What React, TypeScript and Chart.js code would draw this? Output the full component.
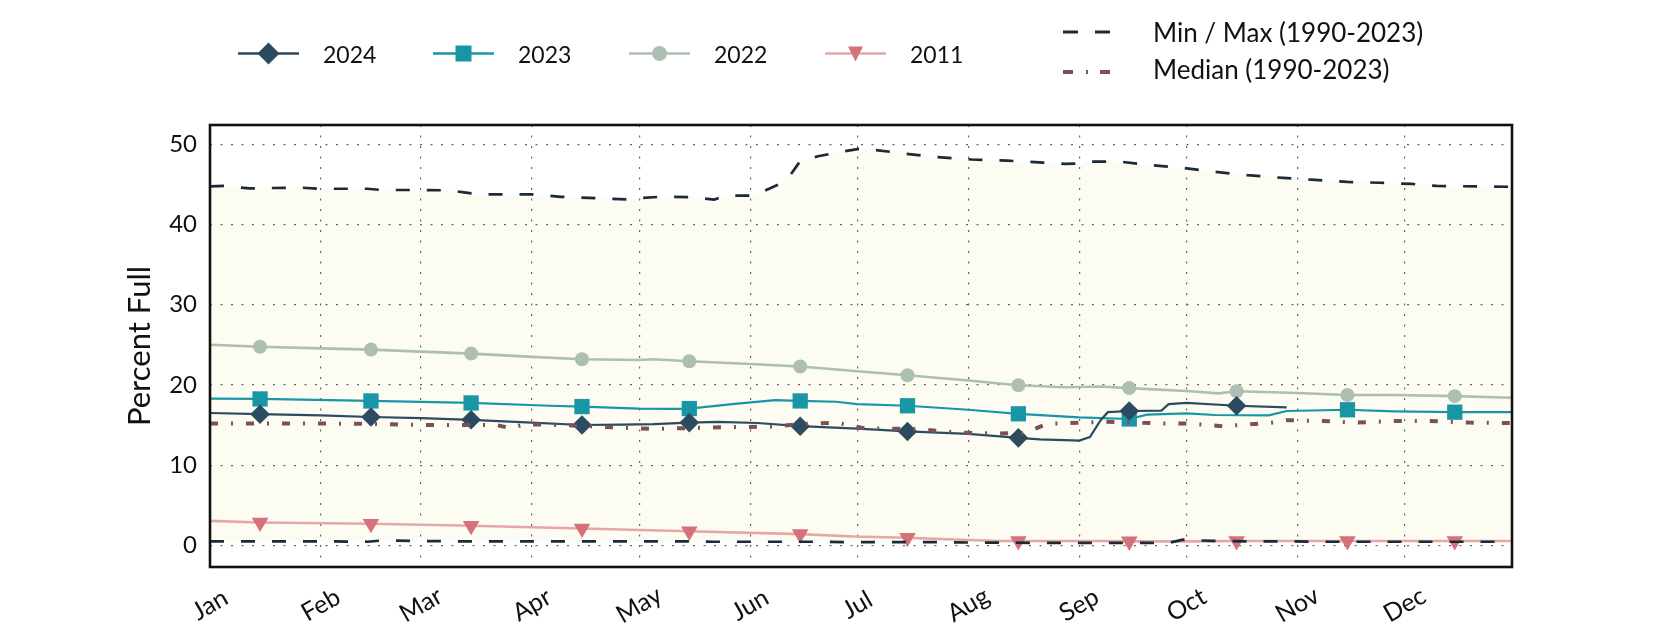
import React, { useEffect, useRef } from 'react';
import { Chart, registerables } from 'chart.js';

Chart.register(...registerables);

// ---------- data (day of year, 0 = Jan 1) ----------
const monthLabels = ['Jan', 'Feb', 'Mar', 'Apr', 'May', 'Jun', 'Jul', 'Aug', 'Sep', 'Oct', 'Nov', 'Dec'];
const monthStartDays = [0, 31, 59, 90, 120, 151, 181, 212, 243, 273, 304, 334];
const markerDays = [14, 45, 73, 104, 134, 165, 195, 226, 257, 287, 318, 348];
const yTickValues = [0, 10, 20, 30, 40, 50];

const envelopeDays = [0, 4, 11, 25, 31, 44, 48, 58, 67, 71, 75, 90, 98, 109, 118, 120, 126, 135, 141, 144, 152, 154, 159, 162, 165, 170, 177, 181, 184, 193, 202, 213, 223, 233, 239, 243, 246, 255, 263, 268, 272, 280, 290, 300, 309, 318, 327, 336, 343, 364];
const maxPct = [44.75, 44.8, 44.5, 44.6, 44.45, 44.45, 44.3, 44.3, 44.25, 44.0, 43.75, 43.75, 43.45, 43.25, 43.1, 43.3, 43.45, 43.4, 43.1, 43.6, 43.6, 44.0, 45.0, 46.0, 47.9, 48.5, 49.1, 49.4, 49.4, 48.9, 48.45, 48.1, 47.95, 47.7, 47.55, 47.6, 47.85, 47.8, 47.4, 47.2, 47.05, 46.6, 46.15, 45.8, 45.55, 45.3, 45.2, 45.05, 44.8, 44.7];
const minPct = [0.5, 0.5, 0.5, 0.5, 0.5, 0.45, 0.6, 0.55, 0.5, 0.5, 0.5, 0.5, 0.5, 0.5, 0.5, 0.5, 0.5, 0.5, 0.45, 0.45, 0.45, 0.45, 0.45, 0.45, 0.45, 0.45, 0.4, 0.4, 0.4, 0.4, 0.4, 0.35, 0.35, 0.3, 0.3, 0.3, 0.3, 0.3, 0.3, 0.3, 0.7, 0.55, 0.5, 0.5, 0.45, 0.45, 0.45, 0.45, 0.45, 0.45];

const medianDays = [0, 20, 45, 59, 80, 84, 88, 98, 114, 124, 140, 157, 165, 175, 183, 198, 209, 220, 227, 230, 234, 250, 266, 273, 283, 297, 301, 311, 321, 331, 341, 352, 364];
const medianPct = [15.2, 15.2, 15.15, 15.0, 15.0, 14.6, 15.1, 15.0, 14.7, 14.5, 14.7, 14.8, 15.1, 15.3, 14.6, 14.5, 14.05, 13.95, 14.0, 14.4, 15.15, 15.4, 15.2, 15.2, 14.85, 15.3, 15.6, 15.5, 15.3, 15.5, 15.5, 15.3, 15.25];

const days2024 = [0, 14, 31, 45, 59, 73, 90, 104, 115, 124, 134, 142, 153, 165, 181, 195, 212, 226, 232, 243, 246, 249, 251, 257, 266, 268, 273, 287, 301];
const pct2024 = [16.5, 16.35, 16.2, 16.0, 15.85, 15.65, 15.3, 15.0, 15.05, 15.1, 15.3, 15.4, 15.25, 14.85, 14.55, 14.2, 13.9, 13.4, 13.2, 13.05, 13.5, 15.6, 16.6, 16.75, 16.8, 17.6, 17.75, 17.4, 17.2];

const days2023 = [0, 14, 45, 73, 95, 104, 120, 130, 134, 146, 158, 165, 175, 181, 195, 212, 226, 243, 257, 262, 273, 281, 296, 301, 318, 331, 348, 364];
const pct2023 = [18.3, 18.25, 18.0, 17.75, 17.4, 17.3, 17.05, 17.0, 17.05, 17.6, 18.1, 18.0, 17.9, 17.6, 17.4, 16.9, 16.4, 15.95, 15.75, 16.3, 16.45, 16.25, 16.2, 16.75, 16.9, 16.7, 16.6, 16.6];

const days2022 = [0, 14, 31, 45, 59, 73, 90, 104, 120, 124, 134, 151, 165, 181, 195, 212, 226, 239, 249, 257, 274, 282, 287, 304, 318, 331, 348, 364];
const pct2022 = [25.0, 24.75, 24.55, 24.4, 24.15, 23.9, 23.5, 23.2, 23.1, 23.2, 22.95, 22.6, 22.3, 21.7, 21.2, 20.55, 19.95, 19.7, 19.8, 19.6, 19.2, 18.95, 19.2, 19.0, 18.75, 18.75, 18.6, 18.4];

const days2011 = [0, 14, 45, 73, 104, 134, 165, 180, 195, 210, 221, 226, 249, 257, 276, 287, 290, 318, 348, 364];
const pct2011 = [3.05, 2.85, 2.7, 2.45, 2.1, 1.75, 1.4, 1.1, 0.95, 0.7, 0.55, 0.55, 0.55, 0.5, 0.5, 0.55, 0.55, 0.55, 0.55, 0.55];

// ---------- styles ----------
const FONT = 'Lato, "Open Sans", sans-serif';
const C2024 = '#2c4a60';
const C2023 = '#1996a6';
const C2022 = '#adbfb2';
const C2011 = '#d4717a';
const C2011_LINE = '#e6a6a6';
const C_MINMAX = '#1b2a3a';
const C_MEDIAN = '#7c5058';
const C_FILL = '#fcfcf2';

const toPoints = (d: number[], v: number[]) => d.map((x, i) => ({ x, y: v[i] }));
const markerRadius = (r: number) => (ctx: any) => (ctx.raw && markerDays.includes(ctx.raw.x) ? r : 0);

function drawMarker(ctx: CanvasRenderingContext2D, kind: string, x: number, y: number, color: string) {
  ctx.save();
  ctx.fillStyle = color;
  ctx.beginPath();
  if (kind === 'diamond') {
    const r = 11;
    ctx.moveTo(x - r, y); ctx.lineTo(x, y - r); ctx.lineTo(x + r, y); ctx.lineTo(x, y + r);
  } else if (kind === 'square') {
    const s = 8;
    ctx.rect(x - s, y - s, 2 * s, 2 * s);
  } else if (kind === 'circle') {
    ctx.arc(x, y, 7.5, 0, Math.PI * 2);
  } else {
    const w = 7.5;
    ctx.moveTo(x - w, y - 7); ctx.lineTo(x + w, y - 7); ctx.lineTo(x, y + 8);
  }
  ctx.closePath();
  ctx.fill();
  ctx.restore();
}

const legendSeries = [
  { label: '2024', color: C2024, line: C2024, kind: 'diamond', x0: 238, x1: 299, tx: 323 },
  { label: '2023', color: C2023, line: C2023, kind: 'square', x0: 433, x1: 494, tx: 518 },
  { label: '2022', color: C2022, line: C2022, kind: 'circle', x0: 629, x1: 690, tx: 714 },
  { label: '2011', color: C2011, line: C2011_LINE, kind: 'triangle', x0: 825, x1: 886, tx: 910 },
];

const decorPlugin = {
  id: 'decor',
  afterDraw(chart: any) {
    const ctx: CanvasRenderingContext2D = chart.ctx;
    const { left, right, top, bottom } = chart.chartArea;
    const xScale = chart.scales.x;

    // frame
    ctx.save();
    ctx.strokeStyle = '#111';
    ctx.lineWidth = 2.6;
    ctx.strokeRect(left, top, right - left, bottom - top);
    ctx.restore();

    // x labels, rotated and centred on month starts
    ctx.save();
    ctx.fillStyle = '#111';
    ctx.font = `25px ${FONT}`;
    ctx.textAlign = 'center';
    ctx.textBaseline = 'middle';
    monthStartDays.forEach((d, i) => {
      const px = xScale.getPixelForValue(d);
      ctx.save();
      ctx.translate(px, bottom + 38);
      ctx.rotate(-Math.PI / 6);
      ctx.fillText(monthLabels[i], 0, 0);
      ctx.restore();
    });
    ctx.restore();

    // y title
    ctx.save();
    ctx.fillStyle = '#111';
    ctx.font = `31px ${FONT}`;
    ctx.textAlign = 'center';
    ctx.textBaseline = 'middle';
    ctx.translate(left - 70, (top + bottom) / 2);
    ctx.rotate(-Math.PI / 2);
    ctx.fillText('Percent Full', 0, 0);
    ctx.restore();

    // legend
    ctx.save();
    ctx.textBaseline = 'alphabetic';
    ctx.textAlign = 'left';
    ctx.font = `23px ${FONT}`;
    const rowY = 53.5;
    legendSeries.forEach((s) => {
      ctx.strokeStyle = s.line;
      ctx.lineWidth = 2.6;
      ctx.beginPath();
      ctx.moveTo(s.x0, rowY);
      ctx.lineTo(s.x1, rowY);
      ctx.stroke();
      drawMarker(ctx, s.kind, (s.x0 + s.x1) / 2, rowY, s.color);
      ctx.fillStyle = '#111';
      ctx.fillText(s.label, s.tx, 62.5);
    });
    // min / max
    ctx.strokeStyle = C_MINMAX;
    ctx.lineWidth = 3;
    ctx.setLineDash([15, 17]);
    ctx.beginPath();
    ctx.moveTo(1063, 32);
    ctx.lineTo(1111, 32);
    ctx.stroke();
    // median
    ctx.strokeStyle = C_MEDIAN;
    ctx.lineWidth = 4;
    ctx.setLineDash([10, 13, 2, 12]);
    ctx.beginPath();
    ctx.moveTo(1063, 72);
    ctx.lineTo(1110, 72);
    ctx.stroke();
    ctx.setLineDash([]);
    ctx.fillStyle = '#111';
    ctx.font = `26px ${FONT}`;
    ctx.fillText('Min / Max (1990-2023)', 1153, 41.5);
    ctx.fillText('Median (1990-2023)', 1153, 78.5);
    ctx.restore();
  },
};

export default function App() {
  const canvasRef = useRef<HTMLCanvasElement | null>(null);

  useEffect(() => {
    document.body.style.margin = '0';
    const canvas = canvasRef.current;
    if (!canvas) return;
    Chart.defaults.font.family = FONT;

    const chart = new Chart(canvas, {
      type: 'line',
      data: {
        datasets: [
          {
            label: 'Median (1990-2023)',
            data: toPoints(medianDays, medianPct),
            borderColor: C_MEDIAN,
            borderWidth: 4,
            borderDash: [8, 13, 2, 13],
            pointRadius: 0,
            fill: false,
            tension: 0,
          },
          {
            label: 'Max (1990-2023)',
            data: toPoints(envelopeDays, maxPct),
            borderColor: C_MINMAX,
            borderWidth: 2.7,
            borderDash: [14, 17],
            pointRadius: 0,
            fill: '+1',
            backgroundColor: C_FILL,
            tension: 0,
          },
          {
            label: 'Min (1990-2023)',
            data: toPoints(envelopeDays, minPct),
            borderColor: C_MINMAX,
            borderWidth: 2.7,
            borderDash: [14, 17],
            pointRadius: 0,
            fill: false,
            tension: 0,
          },
          {
            label: '2024',
            data: toPoints(days2024, pct2024),
            borderColor: C2024,
            borderWidth: 2.2,
            pointStyle: 'rectRot',
            pointRadius: markerRadius(9.8),
            pointBackgroundColor: C2024,
            pointBorderColor: C2024,
            pointBorderWidth: 0,
            fill: false,
            tension: 0,
          },
          {
            label: '2023',
            data: toPoints(days2023, pct2023),
            borderColor: C2023,
            borderWidth: 2.2,
            pointStyle: 'rect',
            pointRadius: markerRadius(10.8),
            pointBackgroundColor: C2023,
            pointBorderColor: C2023,
            pointBorderWidth: 0,
            fill: false,
            tension: 0,
          },
          {
            label: '2022',
            data: toPoints(days2022, pct2022),
            borderColor: C2022,
            borderWidth: 2.6,
            pointStyle: 'circle',
            pointRadius: markerRadius(7),
            pointBackgroundColor: C2022,
            pointBorderColor: C2022,
            pointBorderWidth: 0,
            fill: false,
            tension: 0,
          },
          {
            label: '2011',
            data: toPoints(days2011, pct2011),
            borderColor: C2011_LINE,
            borderWidth: 2.6,
            pointStyle: 'triangle',
            pointRotation: 180,
            pointRadius: markerRadius(9.6),
            pointBackgroundColor: C2011,
            pointBorderColor: C2011,
            pointBorderWidth: 0,
            fill: false,
            tension: 0,
          },
        ],
      },
      options: {
        responsive: false,
        animation: false,
        events: [],
        layout: { padding: { left: 0, right: 168, top: 125, bottom: 0 } },
        plugins: {
          legend: { display: false },
          tooltip: { enabled: false },
          filler: { drawTime: 'beforeDraw' },
        } as any,
        scales: {
          x: {
            type: 'linear',
            min: 0,
            max: 364,
            afterBuildTicks: (scale: any) => {
              scale.ticks = monthStartDays.map((v) => ({ value: v }));
            },
            afterFit: (scale: any) => {
              scale.height = 63;
            },
            ticks: { display: false },
            grid: { color: '#666', lineWidth: 1.2, drawTicks: false },
            border: { display: false, dash: [2, 8.5] },
          },
          y: {
            type: 'linear',
            min: -2.7,
            max: 52.4,
            afterBuildTicks: (scale: any) => {
              scale.ticks = yTickValues.map((v) => ({ value: v }));
            },
            afterFit: (scale: any) => {
              scale.width = 210;
            },
            ticks: { color: '#111', font: { size: 24, family: FONT }, padding: 13 },
            grid: { color: '#666', lineWidth: 1.2, drawTicks: false },
            border: { display: false, dash: [2, 8.5] },
          },
        },
      } as any,
      plugins: [decorPlugin],
    });

    return () => chart.destroy();
  }, []);

  return (
    <div style={{ position: 'absolute', left: 0, top: 0, width: 1680, height: 630, background: '#fff' }}>
      <canvas ref={canvasRef} width={1680} height={630} style={{ display: 'block', width: 1680, height: 630 }} />
    </div>
  );
}
